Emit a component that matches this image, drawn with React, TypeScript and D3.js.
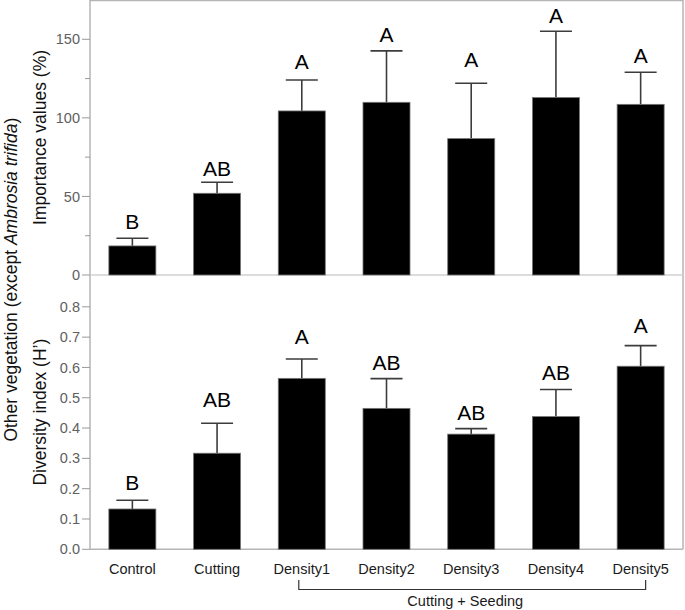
import React from "react";
import * as d3 from "d3";

const categories = ["Control", "Cutting", "Density1", "Density2", "Density3", "Density4", "Density5"];
const importanceMean = [18.5, 52.0, 104.4, 109.9, 86.8, 112.9, 108.6];
const importanceErr = [4.9, 7.0, 19.7, 32.7, 35.2, 42.2, 20.4];
const importanceLetters = ["B", "AB", "A", "A", "A", "A", "A"];
const importanceLetterLevel = [29.1, 63.2, 131.1, 148.5, 132.6, 160.6, 135.1];
const importanceTicks = [0, 50, 100, 150];
const importanceMinorTicks = [25, 75, 125];

const diversityMean = [0.133, 0.317, 0.564, 0.465, 0.38, 0.438, 0.604];
const diversityErr = [0.029, 0.099, 0.064, 0.098, 0.018, 0.089, 0.068];
const diversityLetters = ["B", "AB", "A", "AB", "AB", "AB", "A"];
const diversityLetterLevel = [0.196, 0.471, 0.678, 0.592, 0.427, 0.559, 0.715];
const diversityTicks = [0, 0.1, 0.2, 0.3, 0.4, 0.5, 0.6, 0.7, 0.8];

const groupLabel = "Cutting + Seeding";
const groupFrom = "Density1";
const groupTo = "Density5";

const W = 685;
const H = 610;
const left = 90;
const right = 683;
const FONT = "'Liberation Sans', Arial, Helvetica, sans-serif";

export default function App() {
  const x = d3.scaleBand().domain(categories).range([left, right]).paddingInner(0.445).paddingOuter(0.2225);
  const bw = x.bandwidth();
  const cx = (c: string) => (x(c) as number) + bw / 2;

  const yTop = d3.scaleLinear().domain([0, 175]).range([275, 0]);
  const yBot = d3.scaleLinear().domain([0, 0.905]).range([549.3, 275]);

  const frame = "#b5b5b5";
  const tickCol = "#9a9a9a";
  const labCol = "#606060";
  const errCol = "#3c3c3c";
  const capHalf = 16;

  const panel = (
    y: d3.ScaleLinear<number, number>,
    means: number[],
    errs: number[],
    letters: string[],
    levels: number[],
    key: string
  ) => (
    <g key={key}>
      {categories.map((c, i) => {
        const xc = cx(c);
        const top = y(means[i]);
        const et = y(means[i] + errs[i]);
        return (
          <g key={c}>
            <line x1={xc} x2={xc} y1={top} y2={et} stroke={errCol} strokeWidth={1.6} />
            <line x1={xc - capHalf} x2={xc + capHalf} y1={et} y2={et} stroke={errCol} strokeWidth={1.6} />
            <rect x={x(c)} y={top} width={bw} height={y(0) - top} fill="#000" stroke="#777" strokeWidth={0.8} />
            <text x={xc} y={y(levels[i])} textAnchor="middle" fontSize={21} fill="#000" fontFamily={FONT}>
              {letters[i]}
            </text>
          </g>
        );
      })}
    </g>
  );

  const b1 = cx(groupFrom) - 3;
  const b2 = cx(groupTo) + 5;

  return (
    <div style={{ position: "absolute", left: 0, top: 0 }}>
      <svg width={W} height={H} viewBox={`0 0 ${W} ${H}`} style={{ display: "block", background: "#fff" }}>
        {/* frame */}
        <line x1={left} x2={right} y1={0.5} y2={0.5} stroke={frame} strokeWidth={1.3} />
        <line x1={right} x2={right} y1={0} y2={yBot(0)} stroke={frame} strokeWidth={1.5} />
        <line x1={left} x2={left} y1={0} y2={yBot(0)} stroke={frame} strokeWidth={1.5} />
        <line x1={left} x2={right} y1={yTop(0)} y2={yTop(0)} stroke="#d0d0d0" strokeWidth={1.3} />
        <line x1={left} x2={right} y1={yBot(0)} y2={yBot(0)} stroke={frame} strokeWidth={1.5} />

        {/* top ticks */}
        {importanceTicks.map((t) => (
          <g key={"t" + t}>
            <line x1={left - 8} x2={left} y1={yTop(t)} y2={yTop(t)} stroke={tickCol} strokeWidth={1} />
            <text x={left - 10} y={yTop(t)} dy="0.35em" textAnchor="end" fontSize={14.5} fill={labCol} fontFamily={FONT}>
              {t}
            </text>
          </g>
        ))}
        {importanceMinorTicks.map((t) => (
          <line key={"m" + t} x1={left - 5} x2={left} y1={yTop(t)} y2={yTop(t)} stroke={tickCol} strokeWidth={1} />
        ))}

        {/* bottom ticks */}
        {diversityTicks.map((t) => (
          <g key={"d" + t}>
            <line x1={left - 8} x2={left} y1={yBot(t)} y2={yBot(t)} stroke={tickCol} strokeWidth={1} />
            <text x={left - 10} y={yBot(t)} dy="0.35em" textAnchor="end" fontSize={14.5} fill={labCol} fontFamily={FONT}>
              {d3.format(".1f")(t)}
            </text>
          </g>
        ))}

        {panel(yTop, importanceMean, importanceErr, importanceLetters, importanceLetterLevel, "top")}
        {panel(yBot, diversityMean, diversityErr, diversityLetters, diversityLetterLevel, "bot")}

        {/* x labels */}
        {categories.map((c) => (
          <text key={"x" + c} x={cx(c)} y={574} textAnchor="middle" fontSize={14.5} fill="#1a1a1a" fontFamily={FONT}>
            {c}
          </text>
        ))}

        {/* bracket */}
        <path d={`M${b1},580 V589.5 H${b2} V580`} fill="none" stroke="#333" strokeWidth={1.2} />
        <text x={(b1 + b2) / 2 - 7} y={606} textAnchor="middle" fontSize={14.5} fill="#1a1a1a" fontFamily={FONT}>
          {groupLabel}
        </text>

        {/* axis titles */}
        <text transform={`translate(46,${yTop(87.5)}) rotate(-90)`} textAnchor="middle" fontSize={17.5} fill="#111" fontFamily={FONT}>
          Importance values (%)
        </text>
        <text transform={`translate(46,${(yBot(0) + 275) / 2}) rotate(-90)`} textAnchor="middle" fontSize={17.5} fill="#111" fontFamily={FONT}>
          Diversity index (H’)
        </text>
        <text transform={`translate(17,${yBot(0) / 2 + 5}) rotate(-90)`} textAnchor="middle" fontSize={17.5} fill="#111" fontFamily={FONT}>
          Other vegetation (except <tspan fontStyle="italic">Ambrosia trifida</tspan>)
        </text>
      </svg>
    </div>
  );
}
